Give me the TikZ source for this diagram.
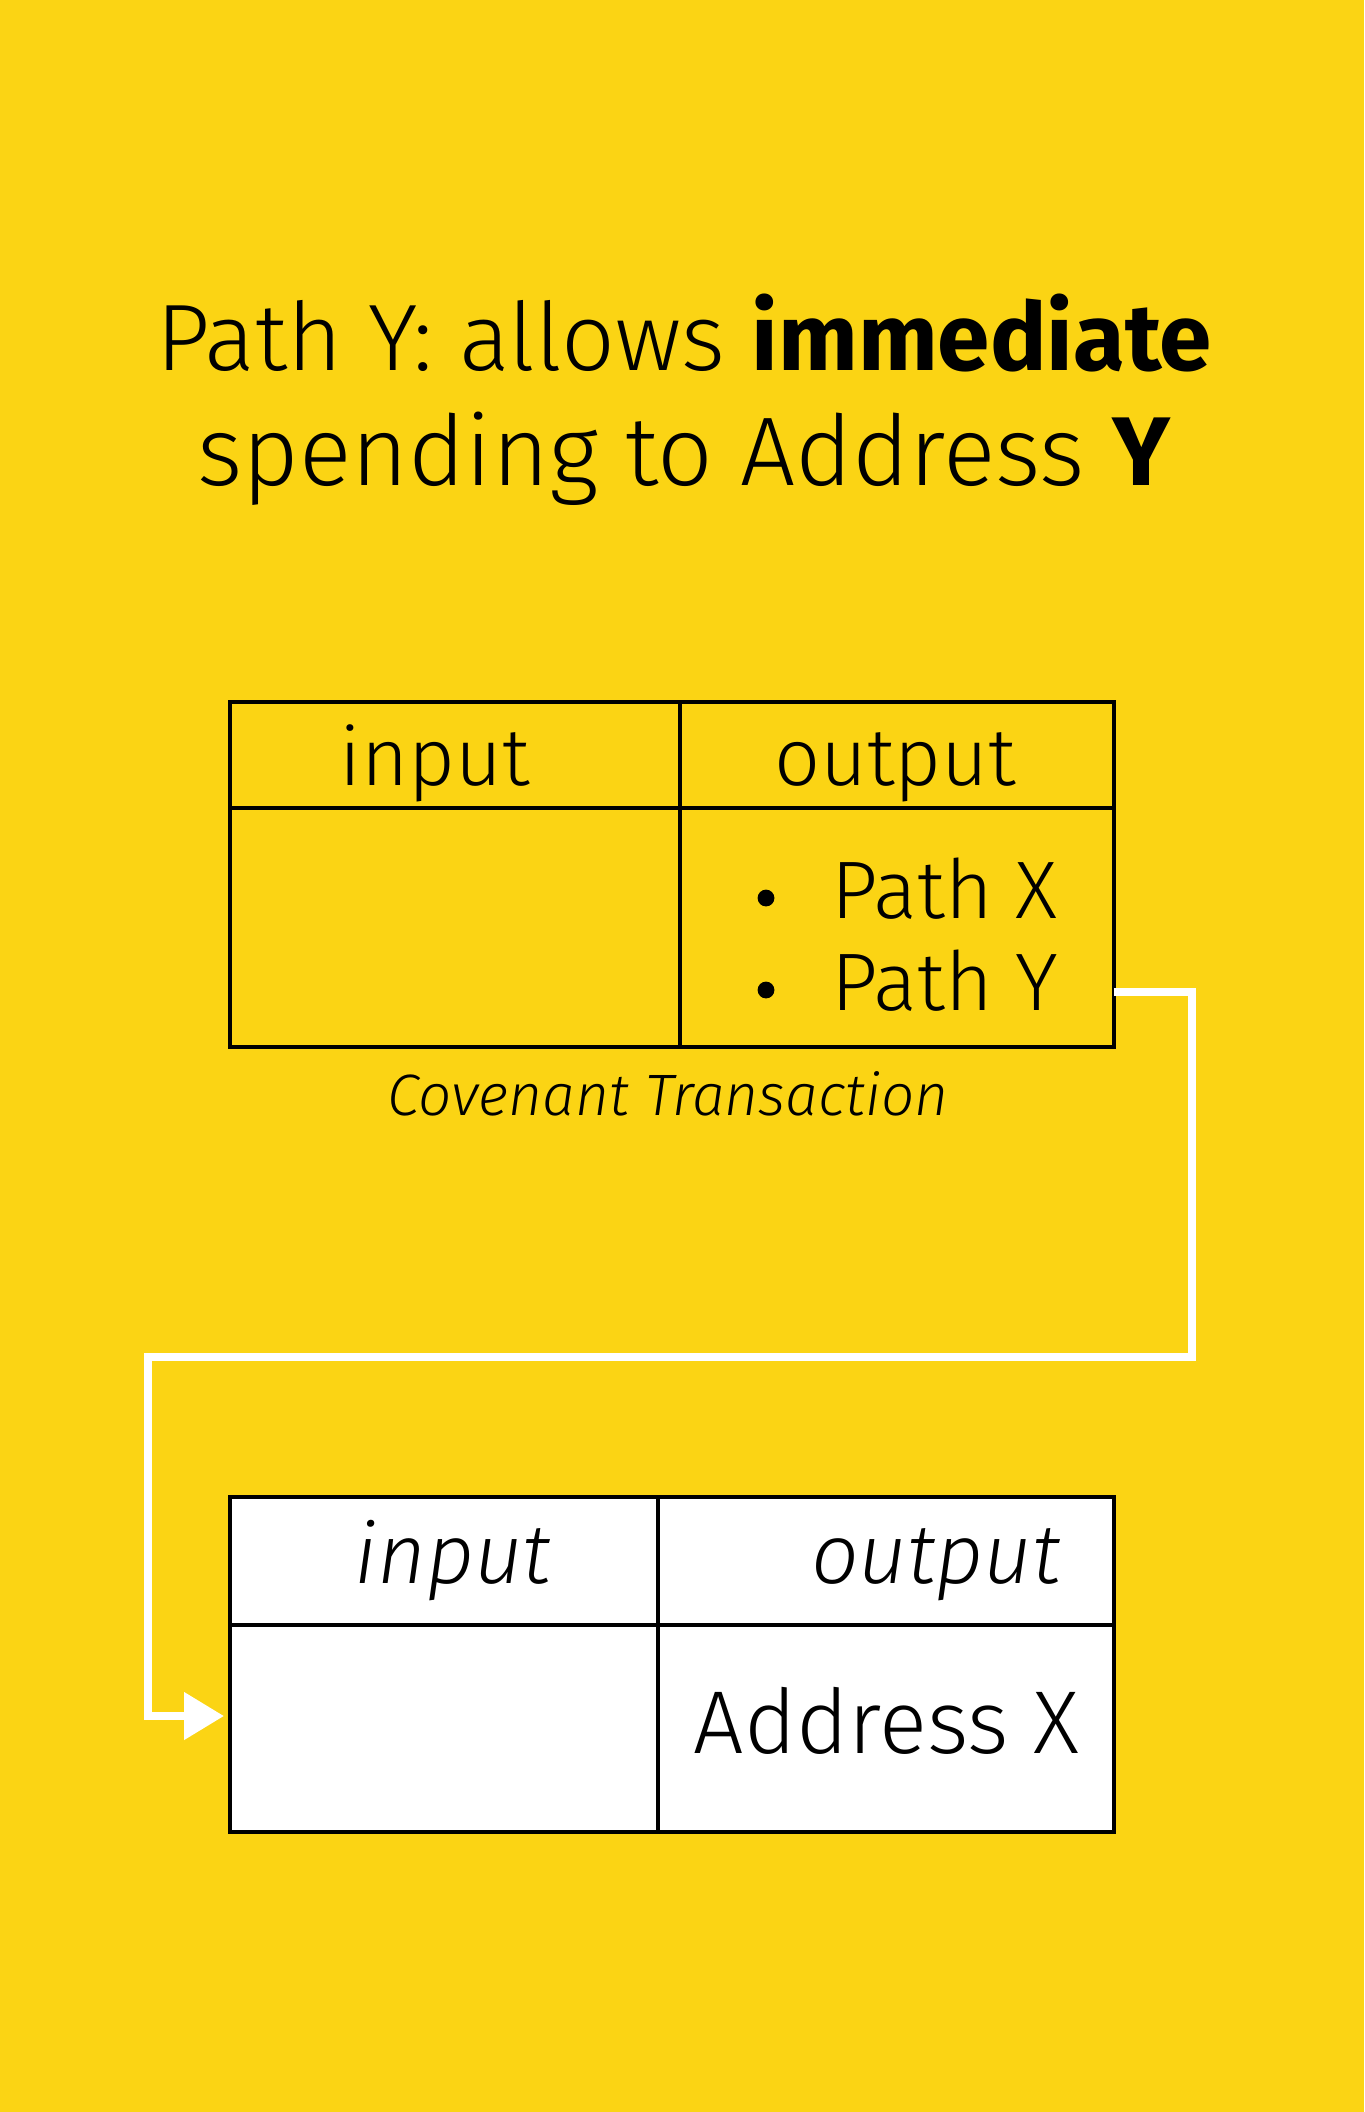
\documentclass[tikz,border=0pt]{standalone}
\usepackage{fontspec}
\setmainfont{Fira Sans}[UprightFont={* Light}, ItalicFont={* Light Italic}, BoldFont={* Bold}]
\usetikzlibrary{arrows.meta}
\definecolor{bg}{RGB}{251,212,20}
\tikzset{
  cell/.style={draw=black, line width=1pt, inner sep=0pt, outer sep=0pt, anchor=north west},
  conn/.style={draw=white, line width=2pt, line join=miter, -{Triangle[length=10pt,width=11.5pt]}},
  bul/.style={circle, fill=black, inner sep=0pt, minimum size=4.2pt},
  fs/.style={font=\fontsize{#1}{#1}\selectfont}
}
\begin{document}
\begin{tikzpicture}[x=0.25pt,y=-0.25pt]
\fill[bg] (0,0) rectangle (1364,2112);
\useasboundingbox (0,0) rectangle (1364,2112);

% title
\node[anchor=base, fs=23.6] (title1) at (684,370) {Path Y: allows \textbf{immediate}};
\node[anchor=base, fs=24.4] (title2) at (684,485) {spending to Address \textbf{Y}};

% top table
\node[cell, minimum width=112.5pt, minimum height=26.625pt] (thin) at (230,701.5) {};
\node[cell, minimum width=108.5pt, minimum height=26.625pt] (thout) at (680,701.5) {};
\node[cell, minimum width=112.5pt, minimum height=59.75pt] (tbin) at (230,808) {};
\node[cell, minimum width=108.5pt, minimum height=59.75pt] (tbout) at (680,808) {};
\node[anchor=base, fs=20.2] (tin) at (435,785) {input};
\node[anchor=base, fs=20.2] (tout) at (895,785) {output};
\node[bul] (b1) at (766,898) {};
\node[bul] (b2) at (766,990) {};
\node[anchor=base west, inner sep=0pt, fs=20.4] (px) at (831,918) {Path X};
\node[anchor=base west, inner sep=0pt, fs=20.4] (py) at (831,1010) {Path Y};
\node[anchor=base, fs=14.6] (cap) at (668,1115) {\itshape Covenant Transaction};

% bottom table
\node[cell, fill=white, minimum width=106.875pt, minimum height=32pt] (bhin) at (230,1497) {};
\node[cell, fill=white, minimum width=114.125pt, minimum height=32pt] (bhout) at (657.5,1497) {};
\node[cell, fill=white, minimum width=106.875pt, minimum height=51.75pt] (bbin) at (230,1625) {};
\node[cell, fill=white, minimum width=114.125pt, minimum height=51.75pt] (bbout) at (657.5,1625) {};
\node[anchor=base, fs=21] (bin) at (453,1583) {\itshape input};
\node[anchor=base, fs=21] (bout) at (936,1583) {\itshape output};
\node[anchor=base west, inner sep=0pt, fs=22.3] (ax) at (693,1753) {Address X};

% connector
\coordinate (src) at (tbout.east |- 0,992);
\coordinate (dst) at ([xshift=-1.5pt]bbin.west |- 0,1716);
\draw[conn] (src) -- (1192,992) |- (148,1357) |- (dst);
\end{tikzpicture}
\end{document}
